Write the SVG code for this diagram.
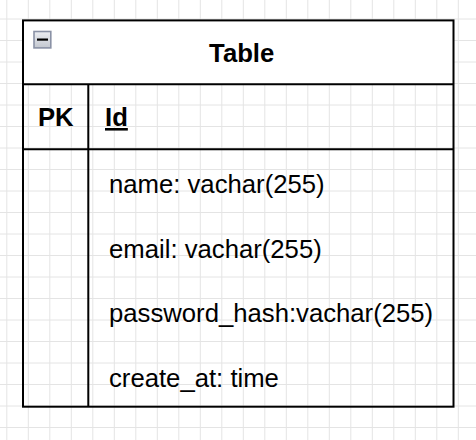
<svg xmlns="http://www.w3.org/2000/svg" width="476" height="440" viewBox="0 0 476 440">
  <style>
    .grid { stroke: #e4e4e4; stroke-width: 1; fill: none; }
    .line { stroke: #000; stroke-width: 2; fill: none; }
    .txt { font-family: "Liberation Sans", Arial, Helvetica, sans-serif; font-size: 25.7px; fill: #000; }
    .b { font-weight: bold; }
  </style>
  <defs>
    <linearGradient id="btn" x1="0" y1="0" x2="0" y2="1">
      <stop offset="0" stop-color="#eceef2"/>
      <stop offset="1" stop-color="#c3c7cf"/>
    </linearGradient>
  </defs>
  <rect x="0" y="0" width="476" height="440" fill="#fff"/>
  <path class="grid" d="M6.8 0V440M28.3 0V440M49.8 0V440M71.3 0V440M92.8 0V440M114.3 0V440M135.8 0V440M157.3 0V440M178.8 0V440M200.3 0V440M221.8 0V440M243.3 0V440M264.8 0V440M286.3 0V440M307.8 0V440M329.3 0V440M350.8 0V440M372.3 0V440M393.8 0V440M415.3 0V440M436.8 0V440M458.3 0V440M0 19H476M0 40.5H476M0 62H476M0 83.5H476M0 105H476M0 126.5H476M0 148H476M0 169.5H476M0 191H476M0 212.5H476M0 234H476M0 255.5H476M0 277H476M0 298.5H476M0 320H476M0 341.5H476M0 363H476M0 384.5H476M0 406H476M0 427.5H476"/>
  <g id="connectors"></g>
  <g id="table">
    <rect x="23" y="20.4" width="430.5" height="64" fill="#fff"/>
    <rect class="line" x="23" y="20.4" width="430.5" height="386.3"/>
    <path class="line" d="M23 84.3H453.5M23 149.2H453.5M88.3 84.3V406.7"/>
    <rect x="34" y="31.5" width="16.8" height="16.4" fill="url(#btn)" stroke="#8a92a6" stroke-width="1.6"/>
    <path d="M37 39.6H48" stroke="#000" stroke-width="2.2"/>
    <text class="txt b" x="241.7" y="61.7" text-anchor="middle">Table</text>
    <text class="txt b" x="55.8" y="126" text-anchor="middle">PK</text>
    <text class="txt b" x="105" y="126" text-decoration="underline">Id</text>
    <text class="txt" x="109" y="193.3">name: vachar(255)</text>
    <text class="txt" x="109" y="257.8">email: vachar(255)</text>
    <text class="txt" x="109" y="322.3">password_hash:vachar(255)</text>
    <text class="txt" x="109" y="386.8">create_at: time</text>
  </g>
</svg>
